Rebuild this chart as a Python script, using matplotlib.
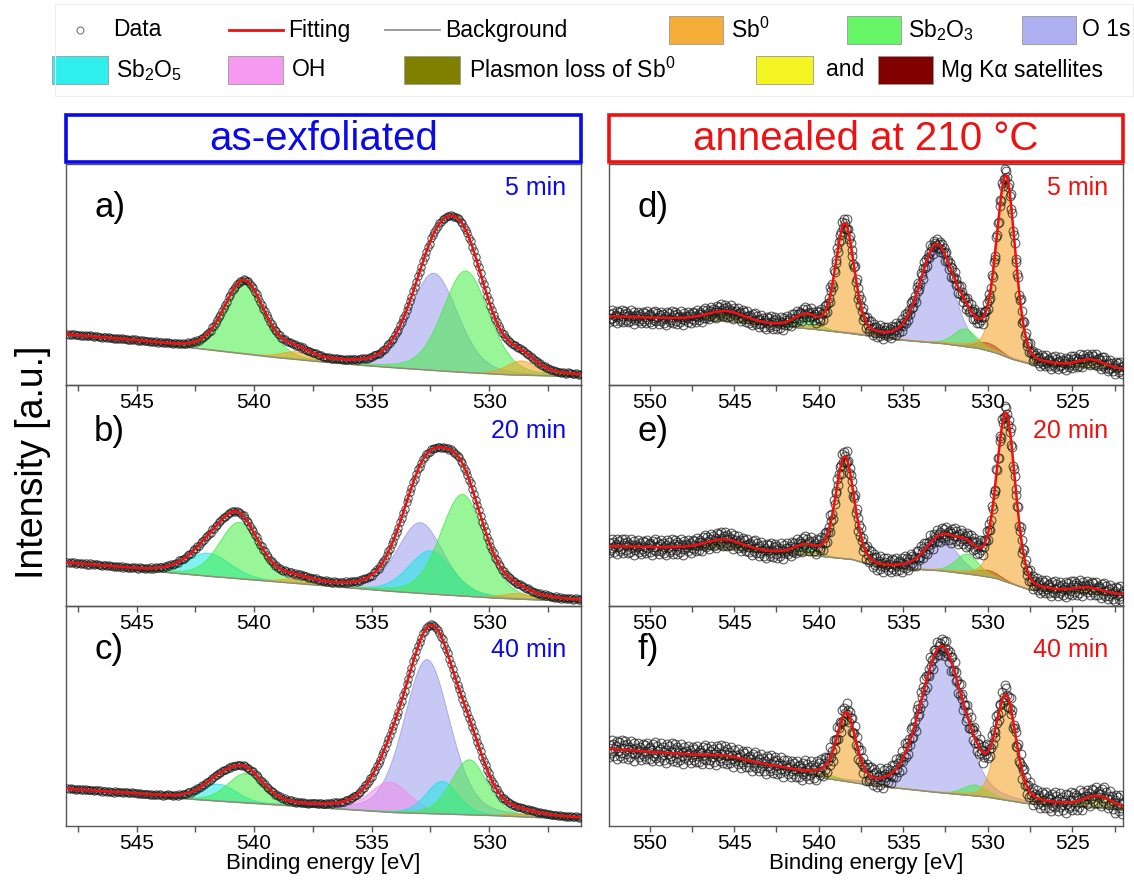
import numpy as np
import matplotlib
matplotlib.use("Agg")
import matplotlib.pyplot as plt
from matplotlib.patches import Rectangle
from matplotlib.lines import Line2D
from matplotlib.ticker import MultipleLocator
from matplotlib import font_manager

# ---------------- data ----------------
left_xlim = (548.0, 526.1)
right_xlim = (552.4, 522.0)
left_ticks = [545, 540, 535, 530]
right_ticks = [550, 545, 540, 535, 530, 525]

panel_labels = ["a)", "b)", "c)", "d)", "e)", "f)"]
panel_times = ["5 min", "20 min", "40 min", "5 min", "20 min", "40 min"]

# background knots (binding energy, intensity in % of panel height)
a_bg_e = [548.0, 545.0, 543.0, 541.0, 539.0, 537.0, 535.0, 533.0, 531.0, 529.0, 526.1]
a_bg_i = [22.8, 19.8, 17.2, 14.8, 12.3, 10.3, 8.5, 7.0, 5.6, 4.5, 3.7]
b_bg_e = [548.0, 545.0, 543.6, 541.0, 538.2, 536.0, 533.9, 531.5, 529.5, 526.1]
b_bg_i = [19.5, 16.4, 15.0, 12.6, 10.2, 8.2, 6.4, 4.7, 3.4, 1.9]
c_bg_e = [548.0, 545.0, 542.5, 540.0, 538.2, 536.0, 533.9, 531.5, 529.5, 526.1]
c_bg_i = [16.8, 14.4, 12.0, 10.2, 9.0, 7.4, 6.0, 5.3, 4.6, 3.0]
d_bg_e = [552.4, 548.0, 545.0, 542.0, 540.0, 538.0, 535.3, 532.5, 530.5, 529.5, 528.5, 527.3, 525.0, 522.0]
d_bg_i = [31.0, 29.8, 28.5, 26.4, 25.0, 23.2, 20.4, 18.6, 16.5, 14.5, 11.5, 9.1, 8.0, 6.8]
e_bg_e = [552.4, 548.0, 545.0, 542.0, 540.0, 538.0, 536.5, 532.7, 530.5, 529.5, 528.5, 527.5, 525.0, 522.0]
e_bg_i = [27.0, 26.2, 25.3, 23.7, 22.6, 21.0, 17.6, 15.9, 13.8, 12.5, 9.8, 7.2, 5.9, 4.9]
f_bg_e = [552.4, 548.0, 545.0, 542.0, 539.5, 536.75, 532.7, 530.1, 527.7, 525.0, 522.0]
f_bg_i = [35.0, 32.4, 29.8, 26.0, 21.5, 18.3, 15.0, 13.2, 10.2, 8.8, 7.5]

# fitted components: species, centre (eV), height (% of panel), FWHM (eV)
a_kind = ["sb2o3", "sb0", "o1s", "sb2o3", "sb0"]
a_cen = [540.42, 538.2, 532.36, 531.0, 528.62]
a_hgt = [33.0, 3.5, 44.0, 46.0, 6.5]
a_fwhm = [2.0, 1.5, 2.4, 2.3, 1.5]

b_kind = ["sb2o5", "sb2o3", "sb0", "o1s", "sb2o5", "sb2o3", "sb0"]
b_cen = [541.93, 540.63, 538.2, 532.93, 532.5, 531.14, 528.8]
b_hgt = [10.4, 25.6, 2.0, 32.0, 19.6, 46.0, 2.5]
b_fwhm = [2.2, 2.0, 1.5, 2.3, 2.2, 2.2, 1.5]

c_kind = ["sb2o5", "sb2o3", "oh", "o1s", "sb2o5", "sb2o3", "sb0"]
c_cen = [541.5, 540.35, 534.23, 532.65, 532.0, 530.85, 528.6]
c_hgt = [7.7, 13.4, 13.7, 70.0, 14.9, 25.0, 1.2]
c_fwhm = [1.8, 1.8, 2.0, 2.3, 1.6, 1.8, 1.5]

d_kind = ["plasmon", "sb2o3", "sb0", "o1s", "sb2o3", "satred", "sb0", "satyel"]
d_cen = [545.5, 540.76, 538.45, 533.03, 531.33, 530.0, 528.92, 523.9]
d_hgt = [4.5, 5.5, 49.0, 43.5, 8.0, 3.5, 80.0, 3.5]
d_fwhm = [2.6, 1.6, 1.3, 2.3, 1.6, 1.6, 1.3, 1.8]

e_kind = ["plasmon", "sb2o3", "sb0", "o1s", "sb2o3", "satred", "sb0", "satyel"]
e_cen = [545.6, 540.76, 538.45, 532.73, 531.22, 530.0, 528.92, 524.1]
e_hgt = [4.5, 4.0, 46.0, 14.8, 9.0, 3.0, 75.0, 2.4]
e_fwhm = [2.6, 1.6, 1.3, 2.2, 1.6, 1.6, 1.3, 2.0]

f_kind = ["plasmon", "sb2o3", "sb0", "o1s", "sb2o3", "sb0", "satyel"]
f_cen = [545.5, 539.45, 538.35, 532.73, 530.73, 528.92, 523.5]
f_hgt = [1.5, 1.8, 30.0, 66.0, 5.0, 45.0, 5.0]
f_fwhm = [2.6, 1.6, 1.3, 2.9, 1.7, 1.4, 2.0]

# scatter of the measured points about the fit (typed pattern, % of panel)
scatter_pattern = [0.42, -0.77, 0.15, 0.93, -0.31, -0.58, 0.66, -0.12, 0.81, -0.95,
                   0.27, 0.04, -0.69, 0.52, -0.21, 0.88, -0.44, 0.35, -0.83, 0.09,
                   0.61, -0.52, 0.97, -0.06, -0.38, 0.73, -0.90, 0.19, 0.48, -0.65,
                   0.30, -0.17, 0.84, -0.73, 0.02, 0.56, -0.47, 0.71, -0.28, -0.86,
                   0.39, 0.12, -0.59, 0.77, -0.08, 0.25, -0.36, 0.68, -0.99, 0.14,
                   -0.22, 0.91, -0.63, 0.33, 0.07, -0.80, 0.58, -0.41, 0.86]
panel_scatter = [0.35, 0.45, 0.35, 3.2, 3.8, 4.8]

# ---------------- styling ----------------
W, H = 1134, 882
names = {f.name for f in font_manager.fontManager.ttflist}
MAIN = "Liberation Sans" if "Liberation Sans" in names else "DejaVu Sans"
plt.rcParams["font.family"] = [MAIN, "DejaVu Sans"]
plt.rcParams["mathtext.fontset"] = "custom"
plt.rcParams["mathtext.rm"] = MAIN
plt.rcParams["mathtext.it"] = MAIN + ":italic"
plt.rcParams["mathtext.default"] = "regular"

fill_colors = {
    "sb0": "#F5A01E", "sb2o3": "#44EE44", "o1s": "#9C9CEC", "sb2o5": "#18E8E8",
    "oh": "#F08AEC", "plasmon": "#808000", "satyel": "#F2F21C", "satred": "#800000",
}
legend_colors = {
    "sb0": "#F4AE38", "sb2o3": "#66F566", "o1s": "#AEB0F2", "sb2o5": "#2EEEEE",
    "oh": "#F59AF0", "plasmon": "#808000", "satyel": "#F4F422", "satred": "#800000",
}
draw_order = ["satred", "satyel", "plasmon", "o1s", "oh", "sb2o5", "sb2o3", "sb0"]
BLUE = "#0A0AE6"
RED = "#EE1111"
AXC = "#555555"


def pvoigt(x, c, h, f, eta=0.25):
    t = (x - c) / f
    return h * ((1 - eta) * np.exp(-4 * np.log(2) * t * t) + eta / (1 + 4 * t * t))


panels = [
    (a_bg_e, a_bg_i, a_kind, a_cen, a_hgt, a_fwhm),
    (b_bg_e, b_bg_i, b_kind, b_cen, b_hgt, b_fwhm),
    (c_bg_e, c_bg_i, c_kind, c_cen, c_hgt, c_fwhm),
    (d_bg_e, d_bg_i, d_kind, d_cen, d_hgt, d_fwhm),
    (e_bg_e, e_bg_i, e_kind, e_cen, e_hgt, e_fwhm),
    (f_bg_e, f_bg_i, f_kind, f_cen, f_hgt, f_fwhm),
]

fig = plt.figure(figsize=(W / 100, H / 100), dpi=100)


def fx(px):
    return px / W


def fy(py):
    return 1 - py / H


col_x = [(66, 581), (609, 1123)]
row_y = [164, 385, 606, 826]
label_off = [43, 46, 44]
time_off = [24, 46, 44]

for idx, (bg_e, bg_i, kinds, cens, hgts, fwhms) in enumerate(panels):
    col = idx // 3
    row = idx % 3
    x0, x1 = col_x[col]
    y0, y1 = row_y[row], row_y[row + 1]
    ax = fig.add_axes([fx(x0), fy(y1), fx(x1 - x0), (y1 - y0) / H])
    ax.patch.set_visible(False)
    xlim = left_xlim if col == 0 else right_xlim
    lo, hi = min(xlim), max(xlim)
    step = 0.07 if col == 0 else 0.05
    x = np.arange(lo, hi + 1e-9, step)
    bg = np.interp(x, bg_e[::-1], bg_i[::-1])
    total = bg.copy()
    comps = []
    for k, c, h, f in zip(kinds, cens, hgts, fwhms):
        y = pvoigt(x, c, h, f)
        comps.append((k, y))
        total = total + y
    for kind in draw_order:
        for k, y in comps:
            if k != kind:
                continue
            alpha = 0.55 if kind not in ("plasmon", "satred") else 0.6
            ax.fill_between(x, bg, bg + y, facecolor=fill_colors[k], alpha=alpha,
                            edgecolor="none", zorder=2)
            ax.plot(x, bg + y, color=fill_colors[k], lw=0.7, alpha=0.8, zorder=2)
    ax.plot(x, bg, color="#8a8a8a", lw=1.0, zorder=3)
    data = total + np.resize(np.array(scatter_pattern), x.size) * panel_scatter[idx]
    ms = 5.3 if col == 0 else 6.3
    ax.plot(x, data, ls="none", marker="o", ms=ms, mfc="none", mec="#1a1a1a",
            mew=0.8, alpha=0.7, zorder=4)
    ax.plot(x, total, color=RED, lw=1.8, zorder=5)

    ax.set_xlim(*xlim)
    ax.set_ylim(0, 100)
    ax.set_yticks([])
    ax.set_xticks(left_ticks if col == 0 else right_ticks)
    ax.xaxis.set_minor_locator(MultipleLocator(2.5))
    ax.tick_params(axis="x", which="both", direction="out", color=AXC,
                   labelsize=15, pad=2, width=1.0, length=4)
    for s in ax.spines.values():
        s.set_color(AXC)
        s.set_linewidth(1.0)
    tcol = BLUE if col == 0 else RED
    ax.text(28 / (x1 - x0), 1 - label_off[row] / (y1 - y0), panel_labels[idx],
            transform=ax.transAxes, fontsize=25, va="center", ha="left", color="black")
    ax.text(1 - 15 / (x1 - x0), 1 - time_off[row] / (y1 - y0), panel_times[idx],
            transform=ax.transAxes, fontsize=18, va="center", ha="right", color=tcol)
    if row == 2:
        ax.set_xlabel("Binding energy [eV]", fontsize=16, labelpad=0)

# column titles
for (x0, x1), txt, c in [(col_x[0], "as-exfoliated", BLUE), (col_x[1], "annealed at 210 °C", RED)]:
    fig.patches.append(Rectangle((fx(x0), fy(162)), fx(x1 - x0), (162 - 115) / H,
                                 transform=fig.transFigure, fill=False, edgecolor=c, lw=2.6))
    fig.text(fx((x0 + x1) / 2), fy(139), txt, ha="center", va="center", fontsize=29, color=c)

fig.text(fx(33), fy(462), "Intensity [a.u.]", rotation=90, ha="center", va="center", fontsize=27)

# ---------------- legend ----------------
LFS = 16.5
r1, r2 = 30, 70
ph = 28


def lpatch(xa, xb, yc, kind):
    fig.patches.append(Rectangle((fx(xa), fy(yc + ph / 2)), fx(xb - xa), ph / H,
                                 transform=fig.transFigure, facecolor=legend_colors[kind],
                                 edgecolor="#999999", lw=0.6))


def ltext(xa, yc, s):
    fig.text(fx(xa), fy(yc), s, ha="left", va="center", fontsize=LFS)


fig.add_artist(Line2D([fx(80)], [fy(r1)], transform=fig.transFigure, ls="none", marker="o",
                      ms=5, mfc="none", mec="#777777", mew=0.8))
ltext(113, r1, "Data")
fig.add_artist(Line2D([fx(229), fx(283)], [fy(r1), fy(r1)], transform=fig.transFigure,
                      color=RED, lw=2.0))
ltext(288, r1, "Fitting")
fig.add_artist(Line2D([fx(385), fx(440)], [fy(r1), fy(r1)], transform=fig.transFigure,
                      color="#8a8a8a", lw=1.2))
ltext(445, r1, "Background")
lpatch(669, 723, r1, "sb0")
ltext(731, r1, r"Sb$^0$")
lpatch(847, 901, r1, "sb2o3")
ltext(908, r1, r"Sb$_2$O$_3$")
lpatch(1022, 1076, r1, "o1s")
ltext(1082, r1, "O 1s")

lpatch(52, 108, r2, "sb2o5")
ltext(116, r2, r"Sb$_2$O$_5$")
lpatch(228, 283, r2, "oh")
ltext(292, r2, "OH")
lpatch(404, 460, r2, "plasmon")
ltext(469, r2, r"Plasmon loss of Sb$^0$")
lpatch(756, 813, r2, "satyel")
ltext(826, r2, "and")
lpatch(878, 933, r2, "satred")
ltext(941, r2, "Mg Kα satellites")

fig.patches.append(Rectangle((fx(55), fy(96)), fx(1134 - 56), (96 - 4) / H,
                             transform=fig.transFigure, fill=False, edgecolor="#eeeeee", lw=0.8))

fig.savefig("out.png", dpi=100)
